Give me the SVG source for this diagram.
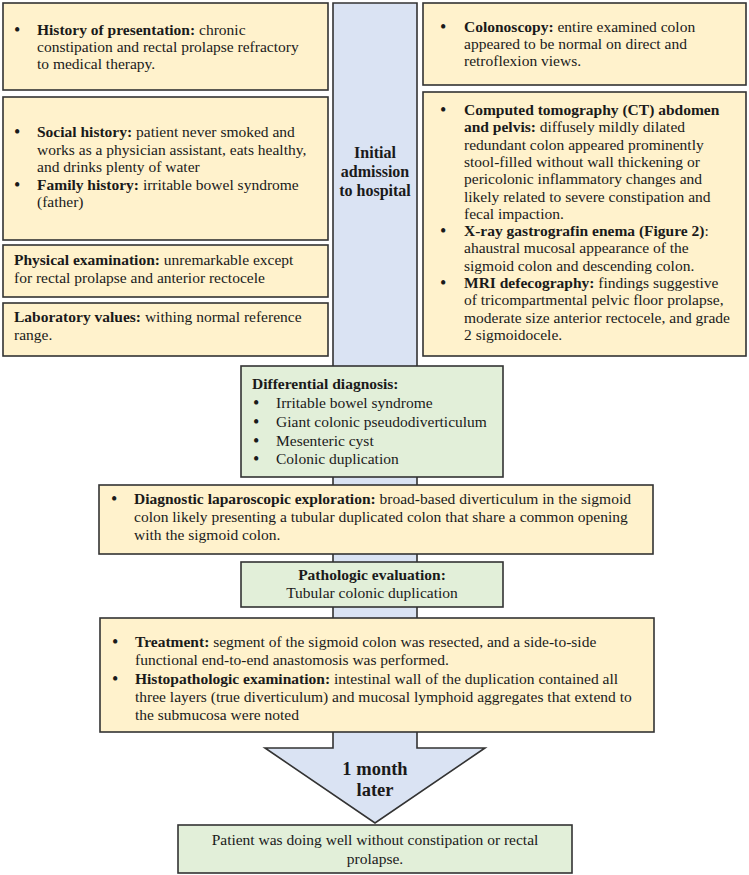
<svg xmlns="http://www.w3.org/2000/svg" width="749" height="875" viewBox="0 0 749 875">
<style>
text{font-family:"Liberation Serif","Times New Roman",serif;font-size:15.5px;fill:#1a1a1a}
.b{font-weight:bold}
.d{font-size:18px}
.y{fill:#FFF2CC;stroke:#333;stroke-width:1.6}
.g{fill:#E2EFD9;stroke:#333;stroke-width:1.6}
.bl{fill:#DAE3F3;stroke:#333;stroke-width:1.6}
.c{text-anchor:middle}
.big{font-size:16px;font-weight:bold}
.huge{font-size:18.5px;font-weight:bold}
</style>
<g id="connectors">
<polygon class="bl" points="333,3 417,3 417,748 485,748 375,823 265,748 333,748"/>
</g>
<g id="timeline-label">
<text class="big c" x="375" y="158">Initial</text>
<text class="big c" x="375" y="177">admission</text>
<text class="big c" x="375" y="196">to hospital</text>
</g>
<g id="history">
<rect class="y" x="3" y="3" width="325" height="87"/>
<text class="d" x="14" y="36">•</text>
<text x="37" y="35"><tspan class="b">History of presentation:</tspan> chronic</text>
<text x="37" y="52">constipation and rectal prolapse refractory</text>
<text x="37" y="69">to medical therapy.</text>
</g>
<g id="social">
<rect class="y" x="3" y="97" width="325" height="143"/>
<text class="d" x="14" y="138">•</text>
<text x="37" y="137"><tspan class="b">Social history:</tspan> patient never smoked and</text>
<text x="37" y="154.5">works as a physician assistant, eats healthy,</text>
<text x="37" y="172">and drinks plenty of water</text>
<text class="d" x="14" y="190.5">•</text>
<text x="37" y="189.5"><tspan class="b">Family history:</tspan> irritable bowel syndrome</text>
<text x="37" y="207">(father)</text>
</g>
<g id="physical">
<rect class="y" x="3" y="245" width="325" height="52"/>
<text x="14" y="265"><tspan class="b">Physical examination:</tspan> unremarkable except</text>
<text x="14" y="283">for rectal prolapse and anterior rectocele</text>
</g>
<g id="lab">
<rect class="y" x="3" y="303" width="325" height="53"/>
<text x="14" y="322"><tspan class="b">Laboratory values:</tspan> withing normal reference</text>
<text x="14" y="340">range.</text>
</g>
<g id="colonoscopy">
<rect class="y" x="423" y="3" width="323" height="82"/>
<text class="d" x="440" y="33">•</text>
<text x="464" y="32"><tspan class="b">Colonoscopy:</tspan> entire examined colon</text>
<text x="464" y="49">appeared to be normal on direct and</text>
<text x="464" y="66">retroflexion views.</text>
</g>
<g id="imaging">
<rect class="y" x="423" y="92" width="323" height="264"/>
<text class="d" x="440" y="116">•</text>
<text x="464" y="115" class="b">Computed tomography (CT) abdomen</text>
<text x="464" y="132.3"><tspan class="b">and pelvis:</tspan> diffusely mildly dilated</text>
<text x="464" y="149.6">redundant colon appeared prominently</text>
<text x="464" y="166.9">stool-filled without wall thickening or</text>
<text x="464" y="184.2">pericolonic inflammatory changes and</text>
<text x="464" y="201.5">likely related to severe constipation and</text>
<text x="464" y="218.8">fecal impaction.</text>
<text class="d" x="440" y="237.1">•</text>
<text x="464" y="236.1"><tspan class="b">X-ray gastrografin enema (Figure 2)</tspan>:</text>
<text x="464" y="253.4">ahaustral mucosal appearance of the</text>
<text x="464" y="270.7">sigmoid colon and descending colon.</text>
<text class="d" x="440" y="289">•</text>
<text x="464" y="288"><tspan class="b">MRI defecography:</tspan> findings suggestive</text>
<text x="464" y="305.3">of tricompartmental pelvic floor prolapse,</text>
<text x="464" y="322.6">moderate size anterior rectocele, and grade</text>
<text x="464" y="339.9">2 sigmoidocele.</text>
</g>
<g id="differential">
<rect class="g" x="241" y="366" width="262" height="111"/>
<text x="252" y="389" class="b">Differential diagnosis:</text>
<text class="d" x="253" y="409">•</text>
<text x="276" y="408">Irritable bowel syndrome</text>
<text class="d" x="253" y="428">•</text>
<text x="276" y="427">Giant colonic pseudodiverticulum</text>
<text class="d" x="253" y="446.5">•</text>
<text x="276" y="445.5">Mesenteric cyst</text>
<text class="d" x="253" y="465">•</text>
<text x="276" y="464">Colonic duplication</text>
</g>
<g id="laparoscopy">
<rect class="y" x="99" y="485" width="554" height="69"/>
<text class="d" x="111" y="505">•</text>
<text x="134" y="504"><tspan class="b">Diagnostic laparoscopic exploration:</tspan> broad-based diverticulum in the sigmoid</text>
<text x="134" y="522">colon likely presenting a tubular duplicated colon that share a common opening</text>
<text x="134" y="540">with the sigmoid colon.</text>
</g>
<g id="pathology">
<rect class="g" x="241" y="562" width="262" height="45"/>
<text class="c b" x="372" y="580">Pathologic evaluation:</text>
<text class="c" x="372" y="598">Tubular colonic duplication</text>
</g>
<g id="treatment">
<rect class="y" x="100" y="618" width="554" height="114"/>
<text class="d" x="112" y="648">•</text>
<text x="135" y="647"><tspan class="b">Treatment:</tspan> segment of the sigmoid colon was resected, and a side-to-side</text>
<text x="135" y="665">functional end-to-end anastomosis was performed.</text>
<text class="d" x="112" y="685">•</text>
<text x="135" y="684"><tspan class="b">Histopathologic examination:</tspan> intestinal wall of the duplication contained all</text>
<text x="135" y="702">three layers (true diverticulum) and mucosal lymphoid aggregates that extend to</text>
<text x="135" y="720">the submucosa were noted</text>
</g>
<g id="interval">
<text class="huge c" x="375" y="775">1 month</text>
<text class="huge c" x="375" y="796">later</text>
</g>
<g id="outcome">
<rect class="g" x="178" y="825" width="394" height="48"/>
<text class="c" x="375" y="845">Patient was doing well without constipation or rectal</text>
<text class="c" x="375" y="864">prolapse.</text>
</g>
</svg>
